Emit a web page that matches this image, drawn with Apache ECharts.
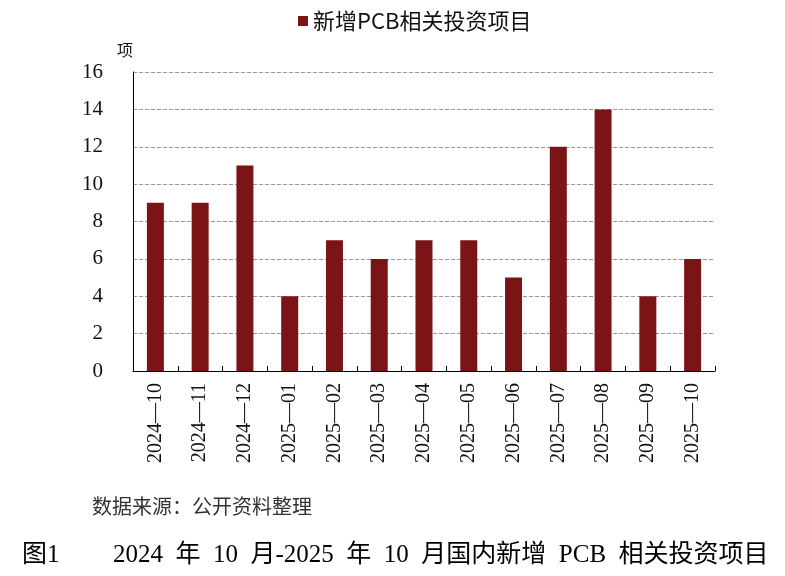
<!DOCTYPE html>
<html><head><meta charset="utf-8">
<script src="https://cdn.jsdelivr.net/npm/echarts@6/dist/echarts.min.js"></script>
<style>html,body{margin:0;padding:0;background:#fff;}#c{width:785px;height:576px;}</style>
</head><body><div id="c"></div>
<script>
const categories = ['2024-10','2024-11','2024-12','2025-01','2025-02','2025-03','2025-04','2025-05','2025-06','2025-07','2025-08','2025-09','2025-10'];
const projects = [9, 9, 11, 4, 7, 6, 7, 7, 5, 12, 14, 4, 6];
const seriesName = '新增PCB相关投资项目';
const yTicks = {min: 0, max: 16, interval: 2};
const sourceText = '数据来源：公开资料整理';
const figLabel = '图1';
const captionText = '2024 年 10 月-2025 年 10 月国内新增 PCB 相关投资项目';

const chart = echarts.init(document.getElementById('c'), null, {renderer: 'canvas'});
chart.setOption({
  animation: false,
  backgroundColor: '#fff',
  legend: {
    top: 5, left: 293,
    itemWidth: 10, itemHeight: 10, itemGap: 4,
    icon: 'rect',
    textStyle: {fontSize: 22, color: '#111', fontFamily: 'Noto Sans CJK SC'},
    data: [seriesName]
  },
  grid: {left: 133, right: 70, top: 72, bottom: 205, containLabel: false},
  xAxis: {
    type: 'category',
    data: categories.map(s => s.replace('-', '—')),
    axisLine: {lineStyle: {color: '#000', width: 1}},
    axisTick: {show: true, inside: true, length: 5, lineStyle: {color: '#000'}},
    axisLabel: {rotate: 90, fontSize: 20, color: '#111', fontFamily: 'Liberation Serif', margin: 12}
  },
  yAxis: {
    type: 'value', min: yTicks.min, max: yTicks.max, interval: yTicks.interval,
    name: '项', nameLocation: 'end', nameGap: 14,
    nameTextStyle: {fontSize: 16, color: '#111', fontFamily: 'Noto Sans CJK SC', align: 'right', padding: [0, 0, 0, 0]},
    axisLine: {show: true, lineStyle: {color: '#000', width: 1}},
    axisTick: {show: false},
    axisLabel: {fontSize: 21, color: '#111', fontFamily: 'Liberation Serif', margin: 30},
    splitLine: {show: true, lineStyle: {color: '#999', type: [4, 2], width: 1}}
  },
  series: [{
    name: seriesName, type: 'bar', data: projects,
    barWidth: 17,
    itemStyle: {color: '#7B1416'}
  }],
  graphic: [
    {type: 'text', left: 92, top: 496, style: {text: sourceText, fontSize: 20, fill: '#333', fontFamily: 'Noto Sans CJK SC'}},
    {type: 'text', left: 22, top: 543, style: {text: figLabel, fontSize: 25, fill: '#000', fontFamily: 'Liberation Serif, Noto Sans CJK SC'}},
    {type: 'text', left: 113, top: 543, style: {text: captionText.replace(/ /g, '\u2002'), fontSize: 25, fill: '#000', fontFamily: 'Liberation Serif, Noto Sans CJK SC'}}
  ]
});
</script></body></html>
